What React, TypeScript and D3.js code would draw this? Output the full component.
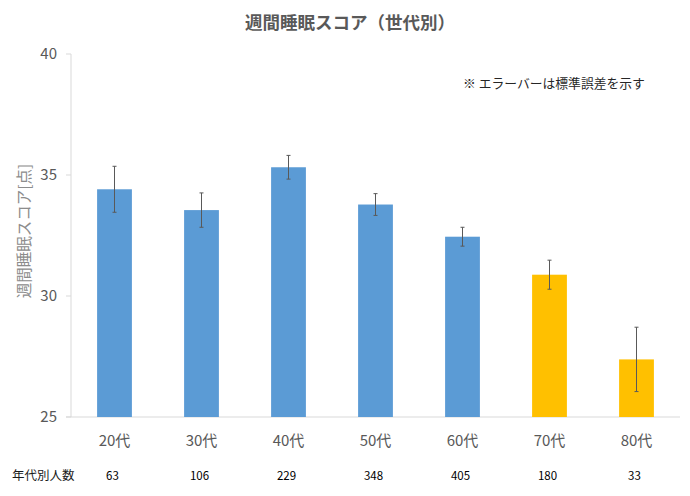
import React from "react";
import * as d3 from "d3";

const categories = ["20代", "30代", "40代", "50代", "60代", "70代", "80代"];
const scores = [34.41, 33.55, 35.32, 33.78, 32.45, 30.88, 27.38];
const stdErrors = [0.95, 0.71, 0.49, 0.45, 0.39, 0.6, 1.33];
const counts = [63, 106, 229, 348, 405, 180, 33];
const highlight = [false, false, false, false, false, true, true];
const yTicks = [25, 30, 35, 40];

const W = 690;
const H = 496;
const M = { left: 71, right: 10, top: 54, bottom: 79 };
const FONT = "'Noto Sans CJK JP', 'Noto Sans', sans-serif";

export default function App() {
  const x = d3
    .scaleBand<string>()
    .domain(categories)
    .range([M.left, W - M.right])
    .paddingInner(0.6)
    .paddingOuter(0.3);
  const y = d3.scaleLinear().domain([25, 40]).range([H - M.bottom, M.top]);
  const bw = x.bandwidth();

  return (
    <svg
      width={W}
      height={H}
      style={{ position: "absolute", left: 0, top: 0, background: "#fff" }}
      fontFamily={FONT}
    >
      <text x={350} y={29} textAnchor="middle" fontSize={17.5} fontWeight="bold" fill="#595959">
        週間睡眠スコア（世代別）
      </text>
      <text x={463} y={88} fontSize={12.8} fill="#262626">
        ※ エラーバーは標準誤差を示す
      </text>
      <text
        transform={`translate(30,${231}) rotate(-90)`}
        textAnchor="middle"
        fontSize={15.5}
        fill="#8c8c8c"
      >
        週間睡眠スコア[点]
      </text>

      {/* axes */}
      <line x1={M.left} x2={M.left} y1={y(40)} y2={y(25)} stroke="#d9d9d9" />
      <line x1={M.left - 5} x2={W - M.right} y1={y(25)} y2={y(25)} stroke="#d9d9d9" />
      {yTicks.map((t) => (
        <g key={t}>
          <line x1={M.left - 5} x2={M.left} y1={y(t)} y2={y(t)} stroke="#d9d9d9" />
          <text x={57} y={y(t)} dy="0.35em" textAnchor="end" fontSize={15} fill="#595959">
            {t}
          </text>
        </g>
      ))}

      {categories.map((c, i) => {
        const cx = (x(c) as number) + bw / 2;
        const top = y(scores[i] + stdErrors[i]);
        const bot = y(scores[i] - stdErrors[i]);
        return (
          <g key={c}>
            <rect
              x={x(c)}
              y={y(scores[i])}
              width={bw}
              height={y(25) - y(scores[i])}
              fill={highlight[i] ? "#FFC000" : "#5B9BD5"}
            />
            <line x1={cx} x2={cx} y1={top} y2={bot} stroke="#595959" strokeWidth={1} />
            <line x1={cx - 2} x2={cx + 2} y1={top} y2={top} stroke="#595959" strokeWidth={1} />
            <line x1={cx - 2} x2={cx + 2} y1={bot} y2={bot} stroke="#595959" strokeWidth={1} />
            <text x={cx} y={446} textAnchor="middle" fontSize={15} fill="#595959">
              {c}
            </text>
            <text x={cx - 2} y={480} textAnchor="middle" fontSize={11.5} fill="#000">
              {counts[i]}
            </text>
          </g>
        );
      })}
      <text x={12} y={480} fontSize={12.5} fill="#1a1a1a">
        年代別人数
      </text>
    </svg>
  );
}
